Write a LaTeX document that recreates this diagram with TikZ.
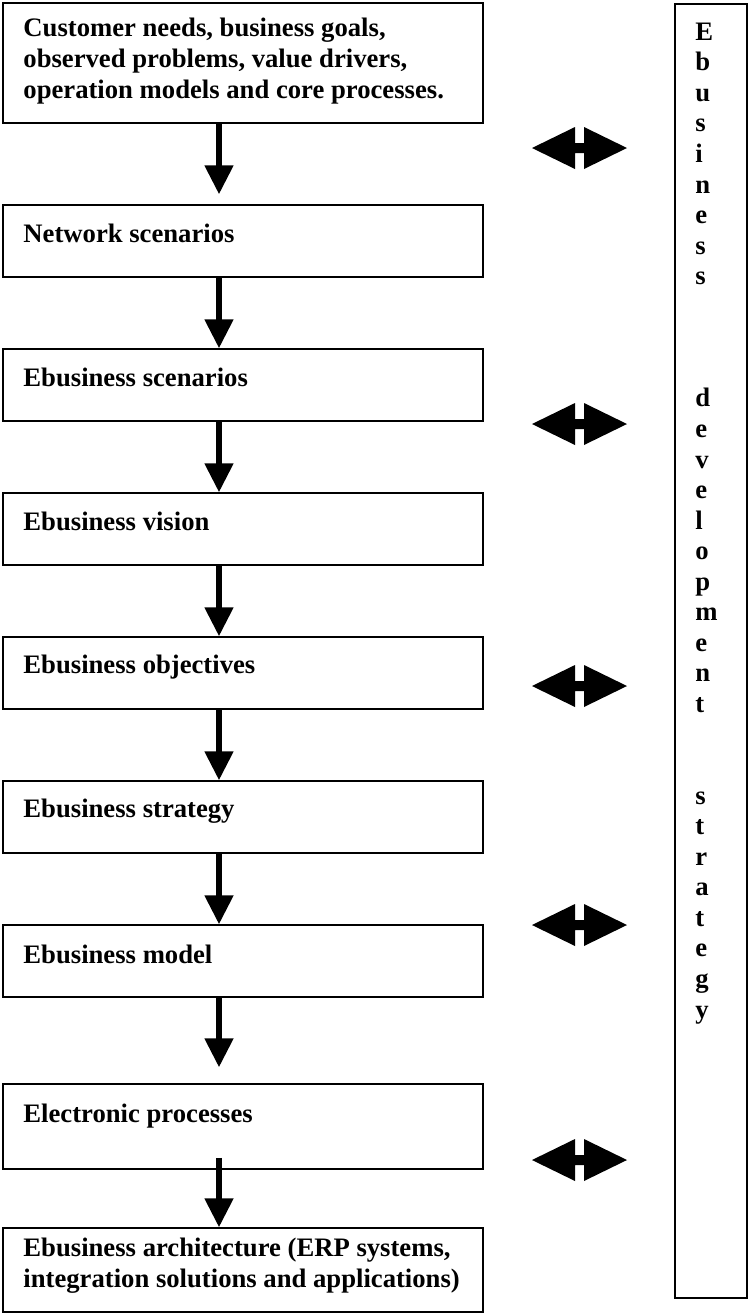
\documentclass[tikz,border=0pt]{standalone}
\usepackage{fontspec}
\setmainfont{Liberation Serif}
\usetikzlibrary{arrows.meta}
\begin{document}
\begin{tikzpicture}[x=0.45pt,y=-0.45pt,
  font=\fontsize{12}{13.75}\selectfont\bfseries,
  stagebox/.style={draw,line width=0.75pt,minimum width=216pt,inner sep=0pt},
  stagetext/.style={anchor=base west,align=left,inner sep=0pt},
  flow/.style={line width=2.3pt,-{Triangle[width=12.6pt,length=13pt]}},
  sidebox/.style={draw,line width=0.9pt,minimum width=32.4pt,minimum height=582.3pt,inner sep=0pt},
  dblarrow/.pic={\fill (-47.5,0) -- (-4.5,-21) -- (-4.5,-5) -- (4.5,-5) -- (4.5,-21)
     -- (47.5,0) -- (4.5,21) -- (4.5,5) -- (-4.5,5) -- (-4.5,21) -- cycle;}
]
\useasboundingbox (0,0) rectangle (748,1314);

% stage boxes of the development chain
\node[stagebox,minimum height=54pt]    (b1) at (243,63) {};
\node[stagebox,minimum height=32.4pt]  (b2) at (243,241) {};
\node[stagebox,minimum height=32.4pt]  (b3) at (243,385) {};
\node[stagebox,minimum height=32.4pt]  (b4) at (243,529) {};
\node[stagebox,minimum height=32.4pt]  (b5) at (243,673) {};
\node[stagebox,minimum height=32.4pt]  (b6) at (243,817) {};
\node[stagebox,minimum height=32.4pt]  (b7) at (243,961) {};
\node[stagebox,minimum height=38.25pt] (b8) at (243,1126.5) {};
\node[stagebox,minimum height=37.8pt]  (b9) at (243,1270) {};

% box labels (multi-line labels are placed by the baseline of their last line)
\node[stagetext] (t1) at (23,98) {Customer needs, business goals,\\observed problems, value drivers,\\operation models and core processes.};
\node[stagetext] (t2) at (23,242) {Network scenarios};
\node[stagetext] (t3) at (23,386) {Ebusiness scenarios};
\node[stagetext] (t4) at (23,530) {Ebusiness vision};
\node[stagetext] (t5) at (23,673) {Ebusiness objectives};
\node[stagetext] (t6) at (23,817) {Ebusiness strategy};
\node[stagetext] (t7) at (23,963) {Ebusiness model};
\node[stagetext] (t8) at (23,1122) {Electronic processes};
\node[stagetext] (t9) at (23,1287) {Ebusiness architecture (ERP systems,\\integration solutions and applications)};

% downward flow arrows
\coordinate (ax) at (219,0);
\draw[flow,shorten >=4.5pt] (b1.south -| ax) -- (b2.north -| ax);
\draw[flow] (b2.south -| ax) -- (b3.north -| ax);
\draw[flow] (b3.south -| ax) -- (b4.north -| ax);
\draw[flow] (b4.south -| ax) -- (b5.north -| ax);
\draw[flow] (b5.south -| ax) -- (b6.north -| ax);
\draw[flow] (b6.south -| ax) -- (b7.north -| ax);
\draw[flow,shorten >=7.2pt] (b7.south -| ax) -- (b8.north -| ax);
\draw[flow,shorten <=-5.4pt] (b8.south -| ax) -- (b9.north -| ax);

% side column
\node[sidebox] (side) at (711,651) {};
\node[stagetext] (sidetext) at (695,1018) {E\\b\\u\\s\\i\\n\\e\\s\\s\\\mbox{}\\\mbox{}\\\mbox{}\\d\\e\\v\\e\\l\\o\\p\\m\\e\\n\\t\\\mbox{}\\\mbox{}\\s\\t\\r\\a\\t\\e\\g\\y};

% two-way links to the side column
\pic at (579.5,148)  {dblarrow};
\pic at (579.5,424)  {dblarrow};
\pic at (579.5,686)  {dblarrow};
\pic at (579.5,925)  {dblarrow};
\pic at (579.5,1160) {dblarrow};
\end{tikzpicture}
\end{document}
